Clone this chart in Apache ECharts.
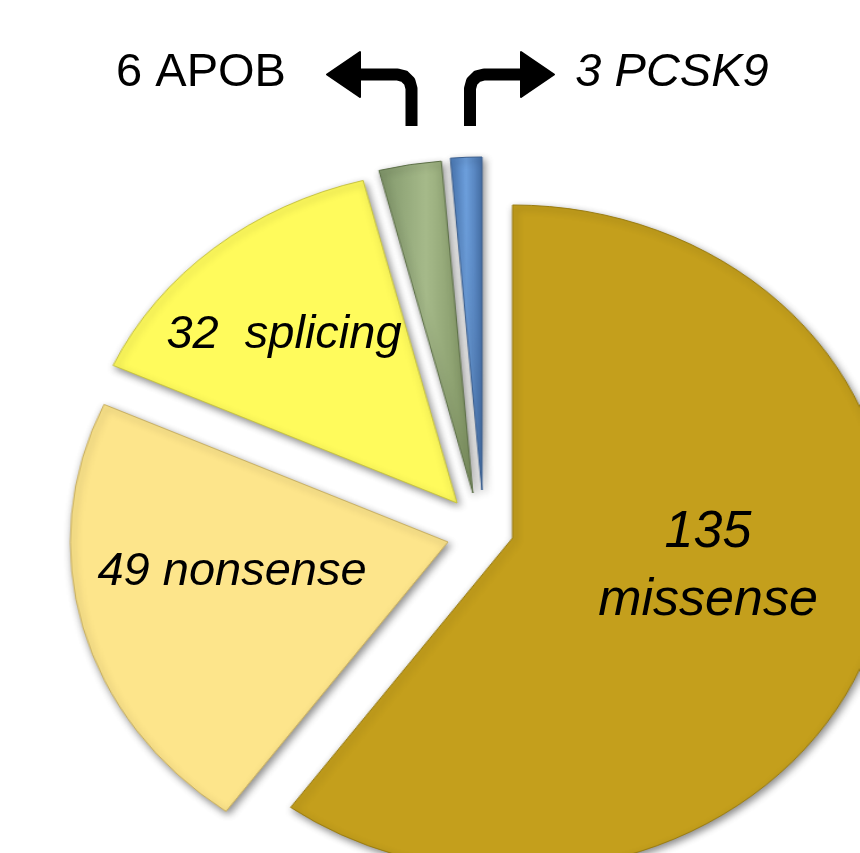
<!DOCTYPE html>
<html>
<head>
<meta charset="utf-8">
<script src="https://cdn.jsdelivr.net/npm/echarts@6/dist/echarts.min.js"></script>
<style>
  html, body { margin: 0; padding: 0; background: #fff; }
  #wrap { position: relative; width: 860px; height: 853px; overflow: hidden; }
  /* the pie in the picture is wider than tall, so the pie layer is stretched */
  #pie { position: absolute; left: 0; top: 0; width: 758px; height: 853px;
         transform: scaleX(1.134); transform-origin: 0 0; }
  #lbl { position: absolute; left: 0; top: 0; width: 860px; height: 853px; }
</style>
</head>
<body>
<div id="wrap">
  <div id="pie"></div>
  <div id="lbl"></div>
</div>
<script>
// data
var names = ['missense', 'nonsense', 'splicing', 'APOB', 'PCSK9'];
var values = [135, 49, 32, 6, 3];

// styles
var colors = [
    '#c49f1c',
    '#fde58b',
    '#fffb5c',
    { type: 'linear', x: 0, y: 0, x2: 1, y2: 0,
      colorStops: [{ offset: 0, color: '#80966a' }, { offset: 0.5, color: '#a6ba8a' }, { offset: 1, color: '#7c905f' }] },
    { type: 'linear', x: 0, y: 0, x2: 1, y2: 0,
      colorStops: [{ offset: 0, color: '#4a78b4' }, { offset: 0.5, color: '#6d9fdc' }, { offset: 1, color: '#4670a8' }] }
];
var borders = ['#9a7c10', '#c9b060', '#c8c440', '#5d7048', '#3b5f8f'];
// exploded slice centres (in the stretched pie layer)
var centers = [[452, 538], [395, 542], [403, 503], [417, 493], [425, 490]];

var series = names.map(function (n, i) {
    return {
        type: 'pie',
        radius: 333,
        center: centers[i],
        startAngle: 90,
        clockwise: true,
        silent: true,
        animation: false,
        label: { show: false },
        labelLine: { show: false },
        emphasis: { disabled: true },
        data: names.map(function (m, j) {
            return {
                name: m,
                value: values[j],
                itemStyle: j === i ? {
                    color: colors[j],
                    borderColor: borders[j],
                    borderWidth: 1,
                    shadowColor: 'rgba(0,0,0,0.45)',
                    shadowBlur: 7,
                    shadowOffsetX: 2,
                    shadowOffsetY: 3
                } : { color: 'transparent', borderWidth: 0 }
            };
        })
    };
});

echarts.init(document.getElementById('pie')).setOption({
    backgroundColor: '#fff',
    series: series
});

// text layer
var font = '"Liberation Sans", Arial, sans-serif';
var txt = function (x, y, s, size, italic) {
    return {
        type: 'text', x: x, y: y, z: 10,
        style: {
            text: s, fill: '#000',
            font: (italic ? 'italic ' : '') + size + 'px ' + font,
            textAlign: 'center', textVerticalAlign: 'middle', lineHeight: 68
        }
    };
};
var arrowStyle = { stroke: '#000', lineWidth: 12, fill: null, lineCap: 'butt', lineJoin: 'round' };
var headStyle = { fill: '#000', stroke: '#000', lineWidth: 2, lineJoin: 'round' };

echarts.init(document.getElementById('lbl')).setOption({
    graphic: [
        txt(708, 567, values[0] + '\n' + names[0], 52, true),
        txt(232, 572, values[1] + ' ' + names[1], 47, true),
        txt(284, 335, values[2] + '  ' + names[2], 47, true),
        txt(201, 73, values[3] + ' ' + names[3], 47, false),
        txt(672, 73, values[4] + ' ' + names[4], 47, true),
        // bent arrows pointing to the two thin slices' labels
        { type: 'polyline', shape: { points: [[411.5, 126], [411.5, 88.5], [409.6, 81.5], [404.5, 76.4], [397.5, 74.5], [352, 74.5]] }, style: arrowStyle },
        { type: 'polygon', shape: { points: [[327, 74.5], [360, 52], [360, 97]] }, style: headStyle },
        { type: 'polyline', shape: { points: [[470, 126], [470, 88.5], [471.9, 81.5], [477, 76.4], [484, 74.5], [528, 74.5]] }, style: arrowStyle },
        { type: 'polygon', shape: { points: [[554, 74.5], [521, 52], [521, 97]] }, style: headStyle }
    ]
});
</script>
</body>
</html>
